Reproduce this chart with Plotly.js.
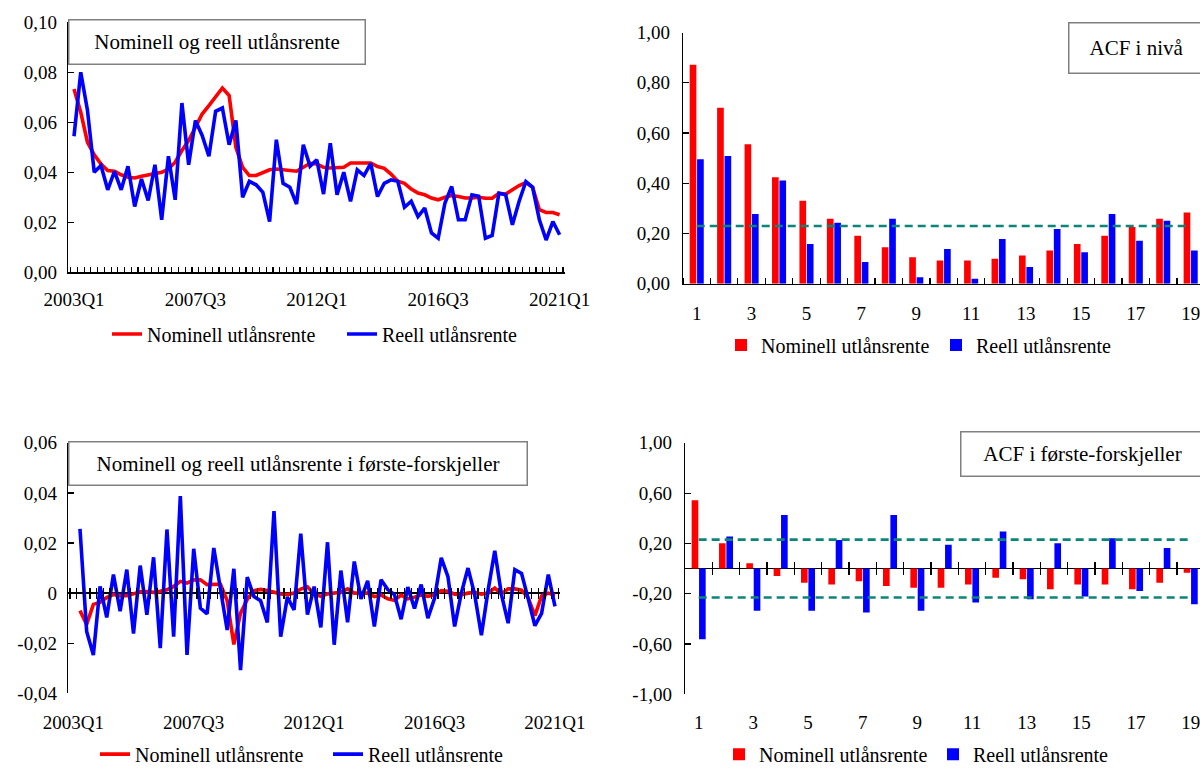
<!DOCTYPE html>
<html><head><meta charset="utf-8">
<script src="https://cdn.plot.ly/plotly-3.0.1.min.js"></script>
<style>html,body{margin:0;padding:0;background:#fff}#chart{width:1200px;height:774px}</style>
</head><body><div id="chart"></div><script>
// ---------- data ----------
const quarters = [
 '2003Q1','2003Q2','2003Q3','2003Q4','2004Q1','2004Q2','2004Q3','2004Q4',
 '2005Q1','2005Q2','2005Q3','2005Q4','2006Q1','2006Q2','2006Q3','2006Q4',
 '2007Q1','2007Q2','2007Q3','2007Q4','2008Q1','2008Q2','2008Q3','2008Q4',
 '2009Q1','2009Q2','2009Q3','2009Q4','2010Q1','2010Q2','2010Q3','2010Q4',
 '2011Q1','2011Q2','2011Q3','2011Q4','2012Q1','2012Q2','2012Q3','2012Q4',
 '2013Q1','2013Q2','2013Q3','2013Q4','2014Q1','2014Q2','2014Q3','2014Q4',
 '2015Q1','2015Q2','2015Q3','2015Q4','2016Q1','2016Q2','2016Q3','2016Q4',
 '2017Q1','2017Q2','2017Q3','2017Q4','2018Q1','2018Q2','2018Q3','2018Q4',
 '2019Q1','2019Q2','2019Q3','2019Q4','2020Q1','2020Q2','2020Q3','2020Q4',
 '2021Q1'];
const labeledQuarters = ['2003Q1','2007Q3','2012Q1','2016Q3','2021Q1'];

const nominal = [
 0.0733,0.064,0.052,0.047,0.0433,0.0407,0.0404,0.039,0.038,0.0377,
 0.0384,0.039,0.0393,0.040,0.0413,0.044,0.0487,0.0527,0.058,0.0633,
 0.0667,0.070,0.0737,0.0707,0.050,0.042,0.0387,0.0387,0.040,0.041,
 0.0413,0.041,0.0404,0.0404,0.042,0.0436,0.0433,0.042,0.0417,0.0417,
 0.042,0.0437,0.0437,0.0437,0.0437,0.0423,0.0416,0.0393,0.0364,0.0356,
 0.0333,0.0317,0.031,0.0297,0.029,0.030,0.0307,0.0303,0.0297,0.0297,
 0.030,0.0296,0.0296,0.0316,0.0313,0.033,0.0347,0.0359,0.034,0.025,
 0.0239,0.0239,0.023];
const real = [
 0.0544,0.080,0.0647,0.040,0.0427,0.033,0.0404,0.033,0.0424,0.0263,
 0.0373,0.0287,0.043,0.021,0.0464,0.029,0.0677,0.043,0.0607,0.0547,
 0.0464,0.0644,0.0657,0.051,0.0607,0.030,0.0364,0.035,0.032,0.0203,
 0.053,0.0356,0.034,0.0273,0.051,0.0424,0.045,0.0313,0.0516,0.031,
 0.040,0.0284,0.041,0.0387,0.0436,0.0303,0.0356,0.037,0.0364,0.026,
 0.0284,0.0223,0.0257,0.0157,0.0136,0.0277,0.0343,0.021,0.021,0.031,
 0.0304,0.0136,0.0147,0.0316,0.031,0.019,0.0284,0.0363,0.034,0.021,
 0.0129,0.0203,0.015];
const dNominal = [
 null,-0.007,-0.0125,-0.0045,-0.0037,-0.0018,-0.0005,-0.001,-0.001,-0.0003,
 0.0005,0.0006,0.0003,0.0007,0.0013,0.0027,0.0047,0.004,0.0053,0.0053,
 0.0034,0.0035,0.0035,-0.003,-0.0205,-0.008,-0.0025,0.001,0.0015,0.001,
 0.0003,-0.0003,-0.0006,0,0.0016,0.0025,-0.0003,-0.0013,-0.0003,0,
 0.0003,0.0017,0,0,0,-0.0014,-0.0007,-0.0023,-0.0029,-0.0008,
 -0.0023,-0.0016,-0.0007,-0.0013,-0.0007,0.001,0.0007,-0.0004,-0.0006,0,
 0.0003,-0.0004,0,0.002,-0.0003,0.0017,0.0017,0.0012,-0.0019,-0.009,
 -0.0011,0,-0.0009];
const dReal = [
 null,0.0256,-0.0153,-0.0247,0.0027,-0.0097,0.0074,-0.0072,0.0094,-0.0161,
 0.011,-0.0086,0.0143,-0.022,0.0254,-0.0174,0.0387,-0.0247,0.0177,-0.006,
 -0.0083,0.018,0.0013,-0.0147,0.0097,-0.0307,0.0064,-0.0014,-0.003,-0.0117,
 0.0327,-0.0174,-0.0016,-0.0067,0.0237,-0.0086,0.0026,-0.0137,0.0203,-0.0206,
 0.009,-0.0116,0.0126,-0.0023,0.0049,-0.0133,0.0053,0.0014,-0.0006,-0.0104,
 0.0024,-0.0061,0.0034,-0.01,-0.0021,0.0141,0.0066,-0.0133,0,0.01,
 -0.0006,-0.0168,0.0011,0.0169,-0.0006,-0.012,0.0094,0.0079,-0.0023,-0.013,
 -0.0081,0.0074,-0.0053];

const lags = [1,2,3,4,5,6,7,8,9,10,11,12,13,14,15,16,17,18,19];
const acfLevelNom  = [0.872,0.701,0.555,0.424,0.330,0.259,0.191,0.145,0.105,0.092,0.092,0.099,0.112,0.132,0.158,0.191,0.226,0.259,0.283];
const acfLevelReal = [0.496,0.509,0.278,0.411,0.158,0.243,0.086,0.259,0.026,0.138,0.020,0.178,0.066,0.218,0.125,0.278,0.171,0.251,0.132];
const acfDiffNom   = [0.543,0.202,0.042,-0.060,-0.113,-0.126,-0.100,-0.139,-0.152,-0.152,-0.126,-0.073,-0.084,-0.165,-0.126,-0.126,-0.165,-0.113,-0.034];
const acfDiffReal  = [-0.562,0.255,-0.336,0.425,-0.336,0.228,-0.349,0.425,-0.336,0.189,-0.270,0.294,-0.244,0.202,-0.223,0.241,-0.178,0.163,-0.283];
const ciBand = 0.23;

const levelTicks = [0,0.02,0.04,0.06,0.08,0.10];
const levelTickText = ['0,00','0,02','0,04','0,06','0,08','0,10'];
const diffTicks = [-0.04,-0.02,0,0.02,0.04,0.06];
const diffTickText = ['-0,04','-0,02','0','0,02','0,04','0,06'];
const acfLevelTicks = [0,0.2,0.4,0.6,0.8,1.0];
const acfLevelTickText = ['0,00','0,20','0,40','0,60','0,80','1,00'];
const acfDiffTicks = [-1,-0.6,-0.2,0.2,0.6,1.0];
const acfDiffTickText = ['-1,00','-0,60','-0,20','0,20','0,60','1,00'];

const titles = ['Nominell og reell utlånsrente','ACF i nivå',
  'Nominell og reell utlånsrente i første-forskjeller','ACF i første-forskjeller'];
const seriesNames = ['Nominell utlånsrente','Reell utlånsrente'];

// ---------- style ----------
const RED = '#ff0000', BLUE = '#0000ff', TEAL = '#0b857a';
const FONT = 'Liberation Serif, Times New Roman, serif';
const W = 1200, H = 774;
const px = v => v / W;
const py = v => 1 - v / H;
const qText = quarters.map(q => labeledQuarters.includes(q) ? q : '');
const blank = quarters.map(() => '');

const axBase = {
  showgrid:false, zeroline:false, linecolor:'#000', linewidth:1.3, tickangle:0,
  ticklabeloverflow:'allow',
  tickcolor:'#000', tickwidth:1.2, tickfont:{family:FONT, size:19, color:'#000'}
};

const traces = [
  {type:'scatter', mode:'lines', x:quarters, y:nominal, xaxis:'x', yaxis:'y',
   name:seriesNames[0], legend:'legend', line:{color:RED, width:3.6}},
  {type:'scatter', mode:'lines', x:quarters, y:real, xaxis:'x', yaxis:'y',
   name:seriesNames[1], legend:'legend', line:{color:BLUE, width:3.6}},

  {type:'bar', x:lags, y:acfLevelNom, xaxis:'x2', yaxis:'y2',
   name:seriesNames[0], legend:'legend2', marker:{color:RED}},
  {type:'bar', x:lags, y:acfLevelReal, xaxis:'x2', yaxis:'y2',
   name:seriesNames[1], legend:'legend2', marker:{color:BLUE}},

  {type:'scatter', mode:'lines', x:quarters, y:dNominal, xaxis:'x3', yaxis:'y3',
   name:seriesNames[0], legend:'legend3', line:{color:RED, width:3.6}},
  {type:'scatter', mode:'lines', x:quarters, y:dReal, xaxis:'x5', yaxis:'y3',
   name:seriesNames[1], legend:'legend3', line:{color:BLUE, width:3.6}},

  {type:'bar', x:lags, y:acfDiffNom, xaxis:'x4', yaxis:'y4',
   name:seriesNames[0], legend:'legend4', marker:{color:RED}},
  {type:'bar', x:lags, y:acfDiffReal, xaxis:'x4', yaxis:'y4',
   name:seriesNames[1], legend:'legend4', marker:{color:BLUE}},
  {type:'scatter', mode:'markers', x:lags, y:acfDiffReal, xaxis:'x6', yaxis:'y4',
   showlegend:false, hoverinfo:'skip', marker:{opacity:0, size:1}}
];

function box(text, left, top, w, h) {
  return {xref:'paper', yref:'paper', x:px(left), y:py(top), xanchor:'left', yanchor:'top',
    width:w, height:h, text:text, showarrow:false, align:'center', valign:'middle',
    bordercolor:'#808080', borderwidth:1.5, borderpad:0,
    font:{family:FONT, size:21, color:'#000'}};
}
function legendAt(x, y, ew) {
  return {orientation:'h', x:px(x), xanchor:'left', y:py(y), yanchor:'middle',
    font:{family:FONT, size:20, color:'#000'}, bgcolor:'rgba(0,0,0,0)',
    entrywidth:ew, entrywidthmode:'pixels', itemclick:false, tracegroupgap:0};
}
const ciLine = (xa, ya, yv) => ({type:'line', xref:xa, yref:ya,
  x0:lags[0], x1:lags[lags.length-1], y0:yv, y1:yv,
  line:{color:TEAL, width:2.6, dash:'8px,5px'}});

const layout = {
  width:W, height:H, margin:{l:0, r:0, t:0, b:0},
  paper_bgcolor:'#fff', plot_bgcolor:'rgba(0,0,0,0)',
  font:{family:FONT, size:19, color:'#000'},
  bargap:0.46, bargroupgap:0.1, showlegend:true, hovermode:false,

  xaxis:Object.assign({}, axBase, {domain:[px(68), px(565)], anchor:'y', type:'category',
    range:[-0.89, 72.8], tickmode:'array', tickvals:quarters, ticktext:qText,
    tickson:'boundaries', ticks:'inside', ticklen:5, showline:true, ticklabelstandoff:10}),
  yaxis:Object.assign({}, axBase, {domain:[py(275.5), py(22.5)], anchor:'x', range:[0, 0.1],
    tickmode:'array', tickvals:levelTicks, ticktext:levelTickText,
    ticks:'inside', ticklen:6, showline:true, ticklabelstandoff:6}),

  xaxis2:Object.assign({}, axBase, {domain:[px(683), 1], anchor:'y2', range:[0.5, 19.34],
    tickmode:'linear', tick0:1, dtick:2, ticks:'', showline:true, ticklabelstandoff:12,
    minor:{tickmode:'linear', tick0:0.5, dtick:1, ticks:'inside', ticklen:6, tickcolor:'#000', tickwidth:1.2}}),
  yaxis2:Object.assign({}, axBase, {domain:[py(287), py(33)], anchor:'x2', range:[0, 1],
    tickmode:'array', tickvals:acfLevelTicks, ticktext:acfLevelTickText,
    ticks:'inside', ticklen:6, showline:true, ticklabelstandoff:8}),

  xaxis3:Object.assign({}, axBase, {domain:[px(68), px(560)], anchor:'y3', type:'category',
    range:[-0.79, 72.75], tickmode:'array', tickvals:quarters, ticktext:qText,
    ticks:'', showline:false, ticklabelstandoff:16}),
  xaxis5:Object.assign({}, axBase, {overlaying:'x3', matches:'x3', anchor:'free', position:py(606),
    type:'category', range:[-0.79, 72.75], tickmode:'array', tickvals:quarters, ticktext:blank,
    tickson:'boundaries', ticks:'inside', ticklen:11, showline:false, showticklabels:false}),
  yaxis3:Object.assign({}, axBase, {domain:[py(701.5), py(448)], anchor:'x3', range:[-0.04, 0.06],
    tickmode:'array', tickvals:diffTicks, ticktext:diffTickText,
    ticks:'inside', ticklen:6, showline:true, ticklabelstandoff:6,
    zeroline:true, zerolinecolor:'#000', zerolinewidth:1.3}),

  xaxis4:Object.assign({}, axBase, {domain:[px(685), 1], anchor:'y4', range:[0.5, 19.34],
    tickmode:'linear', tick0:1, dtick:2, ticks:'', showline:false, ticklabelstandoff:15}),
  xaxis6:Object.assign({}, axBase, {overlaying:'x4', matches:'x4', anchor:'free', position:py(582),
    range:[0.5, 19.34], tickmode:'linear', tick0:0.5, dtick:1, ticks:'inside', ticklen:13,
    showline:false, showticklabels:false}),
  yaxis4:Object.assign({}, axBase, {domain:[py(702.5), py(448)], anchor:'x4', range:[-1, 1],
    tickmode:'array', tickvals:acfDiffTicks, ticktext:acfDiffTickText,
    ticks:'inside', ticklen:6, showline:true, ticklabelstandoff:8,
    zeroline:true, zerolinecolor:'#000', zerolinewidth:1.3, layer:'above traces'}),

  legend:legendAt(107, 338, 190),
  legend2:legendAt(721, 349, 170),
  legend3:legendAt(95, 763, 188),
  legend4:legendAt(719, 763, 169),

  shapes:[ciLine('x2','y2', ciBand), ciLine('x4','y4', ciBand), ciLine('x4','y4', -ciBand)],
  annotations:[
    box(titles[0], 68, 19, 295, 43),
    box(titles[1], 1068, 22, 134, 49),
    box(titles[2], 68, 446, 457, 42),
    box(titles[3], 960, 436, 242, 43)
  ]
};

Plotly.newPlot('chart', traces, layout, {staticPlot:true, displayModeBar:false});
</script></body></html>
